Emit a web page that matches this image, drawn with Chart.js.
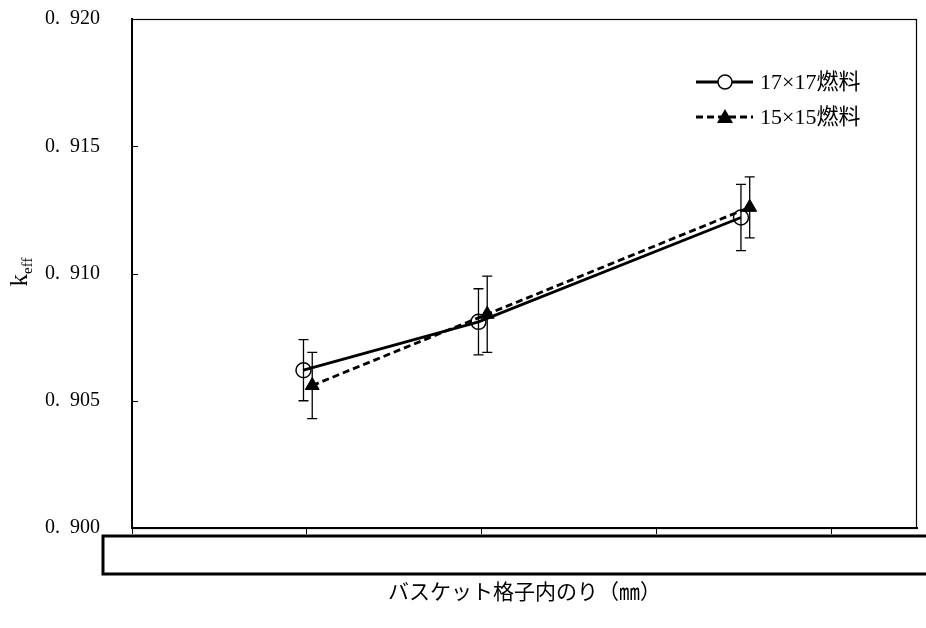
<!DOCTYPE html>
<html>
<head>
<meta charset="utf-8">
<script src="https://cdn.jsdelivr.net/npm/chart.js@4.4.1/dist/chart.umd.min.js"></script>
<style>
  html, body { margin: 0; padding: 0; background: #fff; }
  #wrap { width: 926px; height: 628px; }
</style>
</head>
<body>
<div id="wrap"><canvas id="chart"></canvas></div>
<script>
// values (x tick labels are hidden under the box)
const seriesNames = ['17×17燃料', '15×15燃料'];
const x17 = [0.98, 1.98, 3.48];
const y17 = [0.9062, 0.9081, 0.9122];
const err17 = [0.0012, 0.0013, 0.0013];
const x15 = [1.03, 2.03, 3.53];
const y15 = [0.9056, 0.9084, 0.9126];
const err15 = [0.0013, 0.0015, 0.0012];
const yTicks = [0.900, 0.905, 0.910, 0.915, 0.920];
const xTicks = [0, 1, 2, 3, 4];
const xTitle = 'バスケット格子内のり（㎜）';
const yTitle = 'k';
const yTitleSub = 'eff';

const errs = [err17, err15];
const serif = "'Liberation Serif', 'Noto Sans CJK JP', serif";

const toPoints = (xs, ys) => xs.map((x, i) => ({ x, y: ys[i] }));

const errorBars = {
  id: 'errorBars',
  afterDatasetsDraw(chart) {
    const { ctx, scales: { y } } = chart;
    ctx.save();
    ctx.strokeStyle = '#000';
    ctx.lineWidth = 1.3;
    chart.data.datasets.forEach((ds, di) => {
      const meta = chart.getDatasetMeta(di);
      meta.data.forEach((pt, i) => {
        const v = ds.data[i].y;
        const top = y.getPixelForValue(v + errs[di][i]);
        const bot = y.getPixelForValue(v - errs[di][i]);
        ctx.beginPath();
        ctx.moveTo(pt.x, top); ctx.lineTo(pt.x, bot);
        ctx.moveTo(pt.x - 5, top); ctx.lineTo(pt.x + 5, top);
        ctx.moveTo(pt.x - 5, bot); ctx.lineTo(pt.x + 5, bot);
        ctx.stroke();
      });
    });
    ctx.restore();
  }
};

const decorations = {
  id: 'decorations',
  afterDraw(chart) {
    const { ctx, chartArea: a, scales: { y } } = chart;
    ctx.save();
    // frame
    ctx.strokeStyle = '#000';
    ctx.lineWidth = 1.2;
    ctx.strokeRect(a.left, a.top + 0.5, a.right - a.left - 0.5, a.bottom - a.top);
    // inner y ticks
    ctx.lineWidth = 1;
    y.ticks.forEach(t => {
      const py = Math.round(y.getPixelForValue(t.value)) + 0.5;
      ctx.beginPath();
      ctx.moveTo(a.left, py); ctx.lineTo(a.left + 6, py);
      ctx.stroke();
    });
    // box covering the x tick labels
    ctx.lineWidth = 3;
    ctx.strokeRect(a.left - 29, a.bottom + 8, chart.width + 20, 38);

    // y title k_eff
    ctx.fillStyle = '#000';
    ctx.translate(27, 272);
    ctx.rotate(-Math.PI / 2);
    ctx.textBaseline = 'alphabetic';
    const kFont = '25px ' + serif, subFont = '15px ' + serif;
    ctx.font = kFont;
    const kw = ctx.measureText(yTitle).width;
    ctx.font = subFont;
    const sw = ctx.measureText(yTitleSub).width;
    const x0 = -(kw + sw) / 2;
    ctx.font = kFont;
    ctx.fillText(yTitle, x0, 0);
    ctx.font = subFont;
    ctx.fillText(yTitleSub, x0 + kw, 5);
    ctx.setTransform(1, 0, 0, 1, 0, 0);

    // legend
    const rows = [82, 117];
    chart.data.datasets.forEach((ds, di) => {
      const ly = rows[di];
      ctx.strokeStyle = '#000';
      ctx.lineWidth = 2.8;
      ctx.setLineDash(ds.borderDash || []);
      ctx.beginPath();
      ctx.moveTo(696, ly); ctx.lineTo(753, ly);
      ctx.stroke();
      ctx.setLineDash([]);
      ctx.fillStyle = '#000';
      if (di === 0) {
        ctx.fillStyle = '#fff';
        ctx.lineWidth = 1.5;
        ctx.beginPath();
        ctx.arc(725, ly, 7, 0, Math.PI * 2);
        ctx.fill(); ctx.stroke();
      } else {
        ctx.beginPath();
        ctx.moveTo(725, ly - 8); ctx.lineTo(733, ly + 6); ctx.lineTo(717, ly + 6);
        ctx.closePath(); ctx.fill();
      }
      ctx.fillStyle = '#000';
      ctx.font = '22px ' + serif;
      ctx.textBaseline = 'middle';
      ctx.fillText(ds.label, 760, ly + 1);
    });
    ctx.restore();
  }
};

new Chart(document.getElementById('chart'), {
  type: 'scatter',
  data: {
    datasets: [
      {
        label: seriesNames[0],
        data: toPoints(x17, y17),
        showLine: true,
        borderColor: '#000',
        borderWidth: 2.8,
        pointStyle: 'circle',
        pointRadius: 7.5,
        pointBorderWidth: 1.5,
        pointBackgroundColor: 'rgba(0,0,0,0)',
        pointBorderColor: '#000',
      },
      {
        label: seriesNames[1],
        data: toPoints(x15, y15),
        showLine: true,
        borderColor: '#000',
        borderWidth: 2.8,
        borderDash: [7, 4],
        pointStyle: 'triangle',
        pointRadius: 8,
        pointBorderWidth: 1,
        pointBackgroundColor: '#000',
        pointBorderColor: '#000',
      },
    ],
  },
  options: {
    responsive: true,
    maintainAspectRatio: false,
    animation: false,
    layout: { padding: { left: 0, top: 19, right: 9, bottom: 0 } },
    plugins: { legend: { display: false }, tooltip: { enabled: false } },
    scales: {
      x: {
        type: 'linear',
        min: 0,
        max: 4.486,
        afterBuildTicks: (s) => { s.ticks = xTicks.map((v) => ({ value: v })); },
        afterFit: (s) => { s.height = 100; s.paddingLeft = 0; s.paddingRight = 0; },
        ticks: { display: false },
        grid: { drawOnChartArea: false, drawTicks: true, tickLength: 6, color: '#000', lineWidth: 1 },
        border: { display: true, color: '#000', width: 2 },
        title: {
          display: true,
          text: xTitle,
          color: '#000',
          font: { family: serif, size: 21 },
          padding: { top: 0, bottom: 22 },
        },
      },
      y: {
        min: 0.900,
        max: 0.920,
        afterBuildTicks: (s) => { s.ticks = yTicks.map((v) => ({ value: v })); },
        afterFit: (s) => { s.width = 132; s.paddingTop = 0; s.paddingBottom = 0; },
        ticks: {
          color: '#000',
          padding: 32,
          font: { family: serif, size: 20 },
          callback: (v) => v.toFixed(3).replace('.', '.  '),
        },
        grid: { drawOnChartArea: false, drawTicks: false },
        border: { display: true, color: '#000', width: 2 },
      },
    },
  },
  plugins: [errorBars, decorations],
});
</script>
</body>
</html>
